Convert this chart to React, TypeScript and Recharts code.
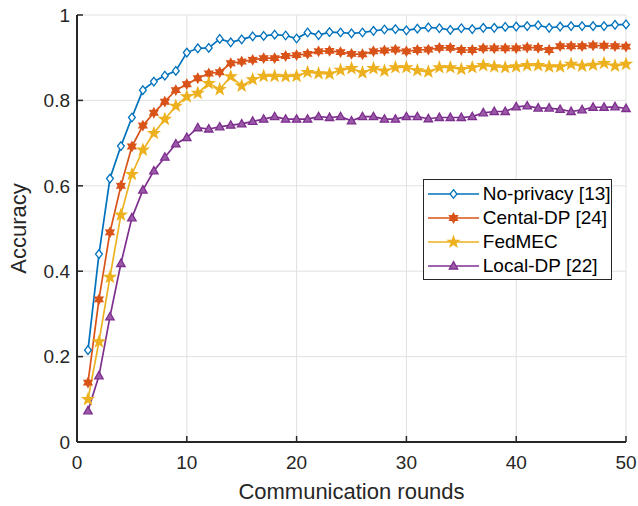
import React from 'react';
import { LineChart, Line, XAxis, YAxis, CartesianGrid, Legend } from 'recharts';

const rounds = [1, 2, 3, 4, 5, 6, 7, 8, 9, 10, 11, 12, 13, 14, 15, 16, 17, 18, 19, 20, 21, 22, 23, 24, 25, 26, 27, 28, 29, 30, 31, 32, 33, 34, 35, 36, 37, 38, 39, 40, 41, 42, 43, 44, 45, 46, 47, 48, 49, 50];

const noPrivacy = [0.215, 0.44, 0.617, 0.693, 0.76, 0.824, 0.844, 0.858, 0.869, 0.912, 0.922, 0.923, 0.944, 0.936, 0.943, 0.95, 0.951, 0.954, 0.952, 0.945, 0.959, 0.953, 0.96, 0.959, 0.957, 0.959, 0.963, 0.966, 0.967, 0.964, 0.968, 0.971, 0.969, 0.965, 0.969, 0.967, 0.97, 0.97, 0.972, 0.973, 0.974, 0.976, 0.97, 0.973, 0.974, 0.974, 0.974, 0.974, 0.977, 0.978];

const centralDP = [0.139, 0.334, 0.491, 0.6, 0.692, 0.741, 0.771, 0.797, 0.824, 0.838, 0.852, 0.863, 0.866, 0.887, 0.891, 0.895, 0.899, 0.899, 0.904, 0.906, 0.909, 0.915, 0.916, 0.913, 0.909, 0.908, 0.915, 0.917, 0.919, 0.915, 0.918, 0.919, 0.923, 0.923, 0.918, 0.918, 0.922, 0.922, 0.922, 0.922, 0.924, 0.923, 0.918, 0.927, 0.927, 0.927, 0.929, 0.928, 0.927, 0.926];

const fedMEC = [0.1, 0.235, 0.386, 0.532, 0.627, 0.684, 0.723, 0.756, 0.787, 0.809, 0.817, 0.84, 0.826, 0.856, 0.834, 0.849, 0.857, 0.857, 0.856, 0.857, 0.866, 0.863, 0.862, 0.871, 0.875, 0.865, 0.875, 0.869, 0.877, 0.877, 0.87, 0.867, 0.877, 0.877, 0.873, 0.877, 0.882, 0.879, 0.877, 0.879, 0.882, 0.882, 0.879, 0.879, 0.885, 0.881, 0.883, 0.887, 0.881, 0.885];

const localDP = [0.073, 0.155, 0.293, 0.418, 0.525, 0.59, 0.635, 0.667, 0.698, 0.713, 0.736, 0.733, 0.738, 0.742, 0.745, 0.751, 0.756, 0.762, 0.756, 0.756, 0.756, 0.762, 0.76, 0.762, 0.752, 0.762, 0.762, 0.756, 0.756, 0.762, 0.762, 0.757, 0.76, 0.76, 0.76, 0.762, 0.771, 0.774, 0.774, 0.785, 0.787, 0.782, 0.782, 0.779, 0.774, 0.778, 0.784, 0.784, 0.785, 0.781];

const xTicks = [0, 10, 20, 30, 40, 50];
const yTicks = [0, 0.2, 0.4, 0.6, 0.8, 1];

const seriesKeys = ['noPrivacy', 'centralDP', 'fedMEC', 'localDP'];
const seriesNames = ['No-privacy [13]', 'Cental-DP [24]', 'FedMEC', 'Local-DP [22]'];
const seriesColors = ['#0072BD', '#D95319', '#EDB120', '#7E2F8E'];
const seriesFills = ['#ffffff', '#D95319', '#EDB120', '#9a5aa8'];
const seriesMarkers = ['diamond', 'hexagram', 'pentagram', 'triangle'];

const data = rounds.map((r, i) => ({
  round: r,
  noPrivacy: noPrivacy[i],
  centralDP: centralDP[i],
  fedMEC: fedMEC[i],
  localDP: localDP[i],
}));

const FONT = '"Liberation Sans", Arial, Helvetica, sans-serif';
const AXIS = '#262626';

function starPath(cx: number, cy: number, n: number, R: number, r: number) {
  let d = '';
  for (let k = 0; k < 2 * n; k++) {
    const ang = -Math.PI / 2 + (k * Math.PI) / n;
    const rad = k % 2 === 0 ? R : r;
    const px = cx + rad * Math.cos(ang);
    const py = cy + rad * Math.sin(ang);
    d += (k === 0 ? 'M' : 'L') + px.toFixed(2) + ',' + py.toFixed(2);
  }
  return d + 'Z';
}

function markerPath(type: string, cx: number, cy: number) {
  switch (type) {
    case 'diamond':
      return `M${cx},${cy - 4.3}L${cx + 3.4},${cy}L${cx},${cy + 4.3}L${cx - 3.4},${cy}Z`;
    case 'hexagram':
      return starPath(cx, cy, 6, 4.6, 2.6);
    case 'pentagram':
      return starPath(cx, cy, 5, 5.6, 2.3);
    default:
      return `M${cx},${cy - 4.4}L${cx + 4.2},${cy + 3}L${cx - 4.2},${cy + 3}Z`;
  }
}

function makeDot(idx: number) {
  return (props: any) => {
    const { cx, cy, index } = props;
    if (cx == null || cy == null) return <g key={`m-${idx}-${index}`} />;
    return (
      <path
        key={`m-${idx}-${index}`}
        d={markerPath(seriesMarkers[idx], cx, cy)}
        fill={seriesFills[idx]}
        stroke={seriesColors[idx]}
        strokeWidth={1.3}
        strokeLinejoin="miter"
      />
    );
  };
}

const LegendBox = () => (
  <div
    style={{
      position: 'relative',
      width: 189,
      height: 101,
      boxSizing: 'border-box',
      border: `1.5px solid ${AXIS}`,
      background: '#fff',
      fontFamily: FONT,
    }}
  >
    {seriesNames.map((name, i) => (
      <div
        key={name}
        style={{
          position: 'absolute',
          left: 0,
          top: 1.5 + i * 24,
          height: 24,
          width: 187,
        }}
      >
        <svg width={58} height={24} style={{ position: 'absolute', left: 0, top: 0 }}>
          <line x1={4} y1={12} x2={55} y2={12} stroke={seriesColors[i]} strokeWidth={1.7} />
          <path
            d={markerPath(seriesMarkers[i], 29.5, 12)}
            fill={seriesFills[i]}
            stroke={seriesColors[i]}
            strokeWidth={1.3}
          />
        </svg>
        <span
          style={{
            position: 'absolute',
            left: 59,
            top: 0,
            lineHeight: '24px',
            fontSize: 19,
            color: '#000',
            whiteSpace: 'nowrap',
          }}
        >
          {name}
        </span>
      </div>
    ))}
  </div>
);

const XLabel = (props: any) => {
  const vb = props.viewBox || { x: 77, width: 549 };
  return (
    <text x={vb.x + vb.width / 2} y={499} textAnchor="middle" fontSize={22} fill={AXIS} fontFamily={FONT}>
      Communication rounds
    </text>
  );
};

const YLabel = () => (
  <text
    x={26}
    y={228.5}
    textAnchor="middle"
    fontSize={22}
    fill={AXIS}
    fontFamily={FONT}
    transform="rotate(-90 26 228.5)"
  >
    Accuracy
  </text>
);

export default function App() {
  return (
    <div style={{ position: 'absolute', left: 0, top: 0, width: 638, height: 506 }}>
      <LineChart
        width={638}
        height={506}
        data={data}
        margin={{ top: 15, right: 12, bottom: 0, left: 0 }}
        style={{ fontFamily: FONT }}
      >
        <CartesianGrid stroke="#e1e1e1" strokeWidth={1} vertical horizontal />
        <XAxis
          dataKey="round"
          type="number"
          domain={[0, 50]}
          ticks={xTicks}
          interval={0}
          height={64}
          axisLine={{ stroke: AXIS, strokeWidth: 2 }}
          tickLine={{ stroke: AXIS, strokeWidth: 1.5 }}
          tickSize={-6}
          tickMargin={20}
          tick={{ fontSize: 19, fill: AXIS, fontFamily: FONT }}
          label={<XLabel />}
        />
        <XAxis
          xAxisId="top"
          orientation="top"
          dataKey="round"
          type="number"
          domain={[0, 50]}
          ticks={xTicks}
          interval={0}
          height={0}
          axisLine={{ stroke: AXIS, strokeWidth: 2 }}
          tickLine={{ stroke: AXIS, strokeWidth: 1.5 }}
          tickSize={-6}
          tick={false}
        />
        <YAxis
          type="number"
          domain={[0, 1]}
          ticks={yTicks}
          interval={0}
          width={77}
          axisLine={{ stroke: AXIS, strokeWidth: 2 }}
          tickLine={{ stroke: AXIS, strokeWidth: 1.5 }}
          tickSize={-6}
          tickMargin={13}
          tick={{ fontSize: 19, fill: AXIS, fontFamily: FONT }}
          tickFormatter={(v: number) => String(v)}
          label={<YLabel />}
        />
        <YAxis
          yAxisId="right"
          orientation="right"
          type="number"
          domain={[0, 1]}
          ticks={yTicks}
          interval={0}
          width={0}
          axisLine={{ stroke: AXIS, strokeWidth: 2 }}
          tickLine={{ stroke: AXIS, strokeWidth: 1.5 }}
          tickSize={-6}
          tick={false}
        />
        <Legend
          layout="vertical"
          align="center"
          verticalAlign="middle"
          wrapperStyle={{ position: 'absolute', left: 422.8, top: 179.3, width: 189, height: 101 }}
          content={() => <LegendBox />}
        />
        {seriesKeys.map((k, i) => (
          <Line
            key={k}
            dataKey={k}
            name={seriesNames[i]}
            stroke={seriesColors[i]}
            strokeWidth={1.7}
            dot={makeDot(i)}
            activeDot={false}
            isAnimationActive={false}
            type="linear"
          />
        ))}
      </LineChart>
    </div>
  );
}
